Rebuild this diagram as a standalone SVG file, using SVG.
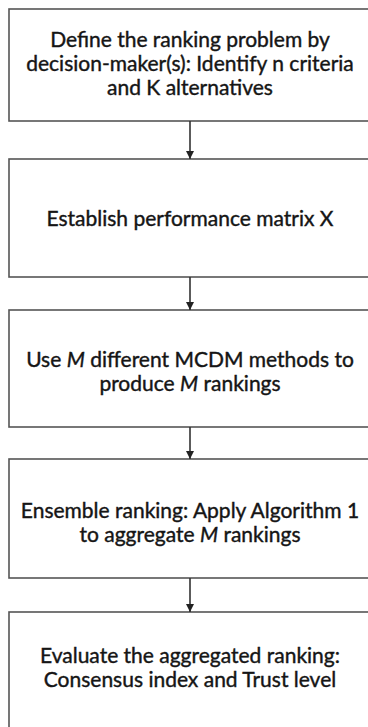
<svg xmlns="http://www.w3.org/2000/svg" width="368" height="727" viewBox="0 0 368 727">
  <style>
    .box { fill: #ffffff; stroke: #555555; stroke-width: 1.6; }
    .label { font-family: Lato, "Open Sans", sans-serif; font-size: 21px; font-weight: 400; fill: #151515; stroke: #151515; stroke-width: 0.4; text-anchor: middle; }
    .edge { stroke: #333333; stroke-width: 1.6; fill: none; }
  </style>
  <defs>
    <marker id="arrow" markerWidth="8" markerHeight="8" refX="8" refY="4" orient="auto" markerUnits="userSpaceOnUse">
      <path d="M0,0 L8,4 L0,8 Z" fill="#222222"/>
    </marker>
  </defs>
  <rect width="368" height="727" fill="#ffffff"/>

  <g id="step1">
    <rect class="box" x="9" y="9" width="364" height="112"/>
    <text class="label" x="190" y="47">Define the ranking problem by</text>
    <text class="label" x="190" y="71">decision-maker(s): Identify n criteria</text>
    <text class="label" x="190" y="95">and K alternatives</text>
  </g>

  <g id="step2">
    <rect class="box" x="9" y="159" width="364" height="118"/>
    <text class="label" x="190" y="226">Establish performance matrix X</text>
  </g>

  <g id="step3">
    <rect class="box" x="9" y="310" width="364" height="117"/>
    <text class="label" x="190" y="367">Use <tspan font-style="italic">M</tspan> different MCDM methods to</text>
    <text class="label" x="190" y="391">produce <tspan font-style="italic">M</tspan> rankings</text>
  </g>

  <g id="step4">
    <rect class="box" x="9" y="459" width="364" height="119"/>
    <text class="label" x="190" y="518">Ensemble ranking: Apply Algorithm 1</text>
    <text class="label" x="190" y="542">to aggregate <tspan font-style="italic">M</tspan> rankings</text>
  </g>

  <g id="step5">
    <rect class="box" x="9" y="612" width="364" height="130"/>
    <text class="label" x="190" y="663">Evaluate the aggregated ranking:</text>
    <text class="label" x="190" y="687">Consensus index and Trust level</text>
  </g>

  <g id="connectors">
    <line class="edge" x1="190" y1="121" x2="190" y2="159" marker-end="url(#arrow)"/>
    <line class="edge" x1="190" y1="277" x2="190" y2="310" marker-end="url(#arrow)"/>
    <line class="edge" x1="190" y1="427" x2="190" y2="459" marker-end="url(#arrow)"/>
    <line class="edge" x1="190" y1="578" x2="190" y2="612" marker-end="url(#arrow)"/>
  </g>
</svg>
